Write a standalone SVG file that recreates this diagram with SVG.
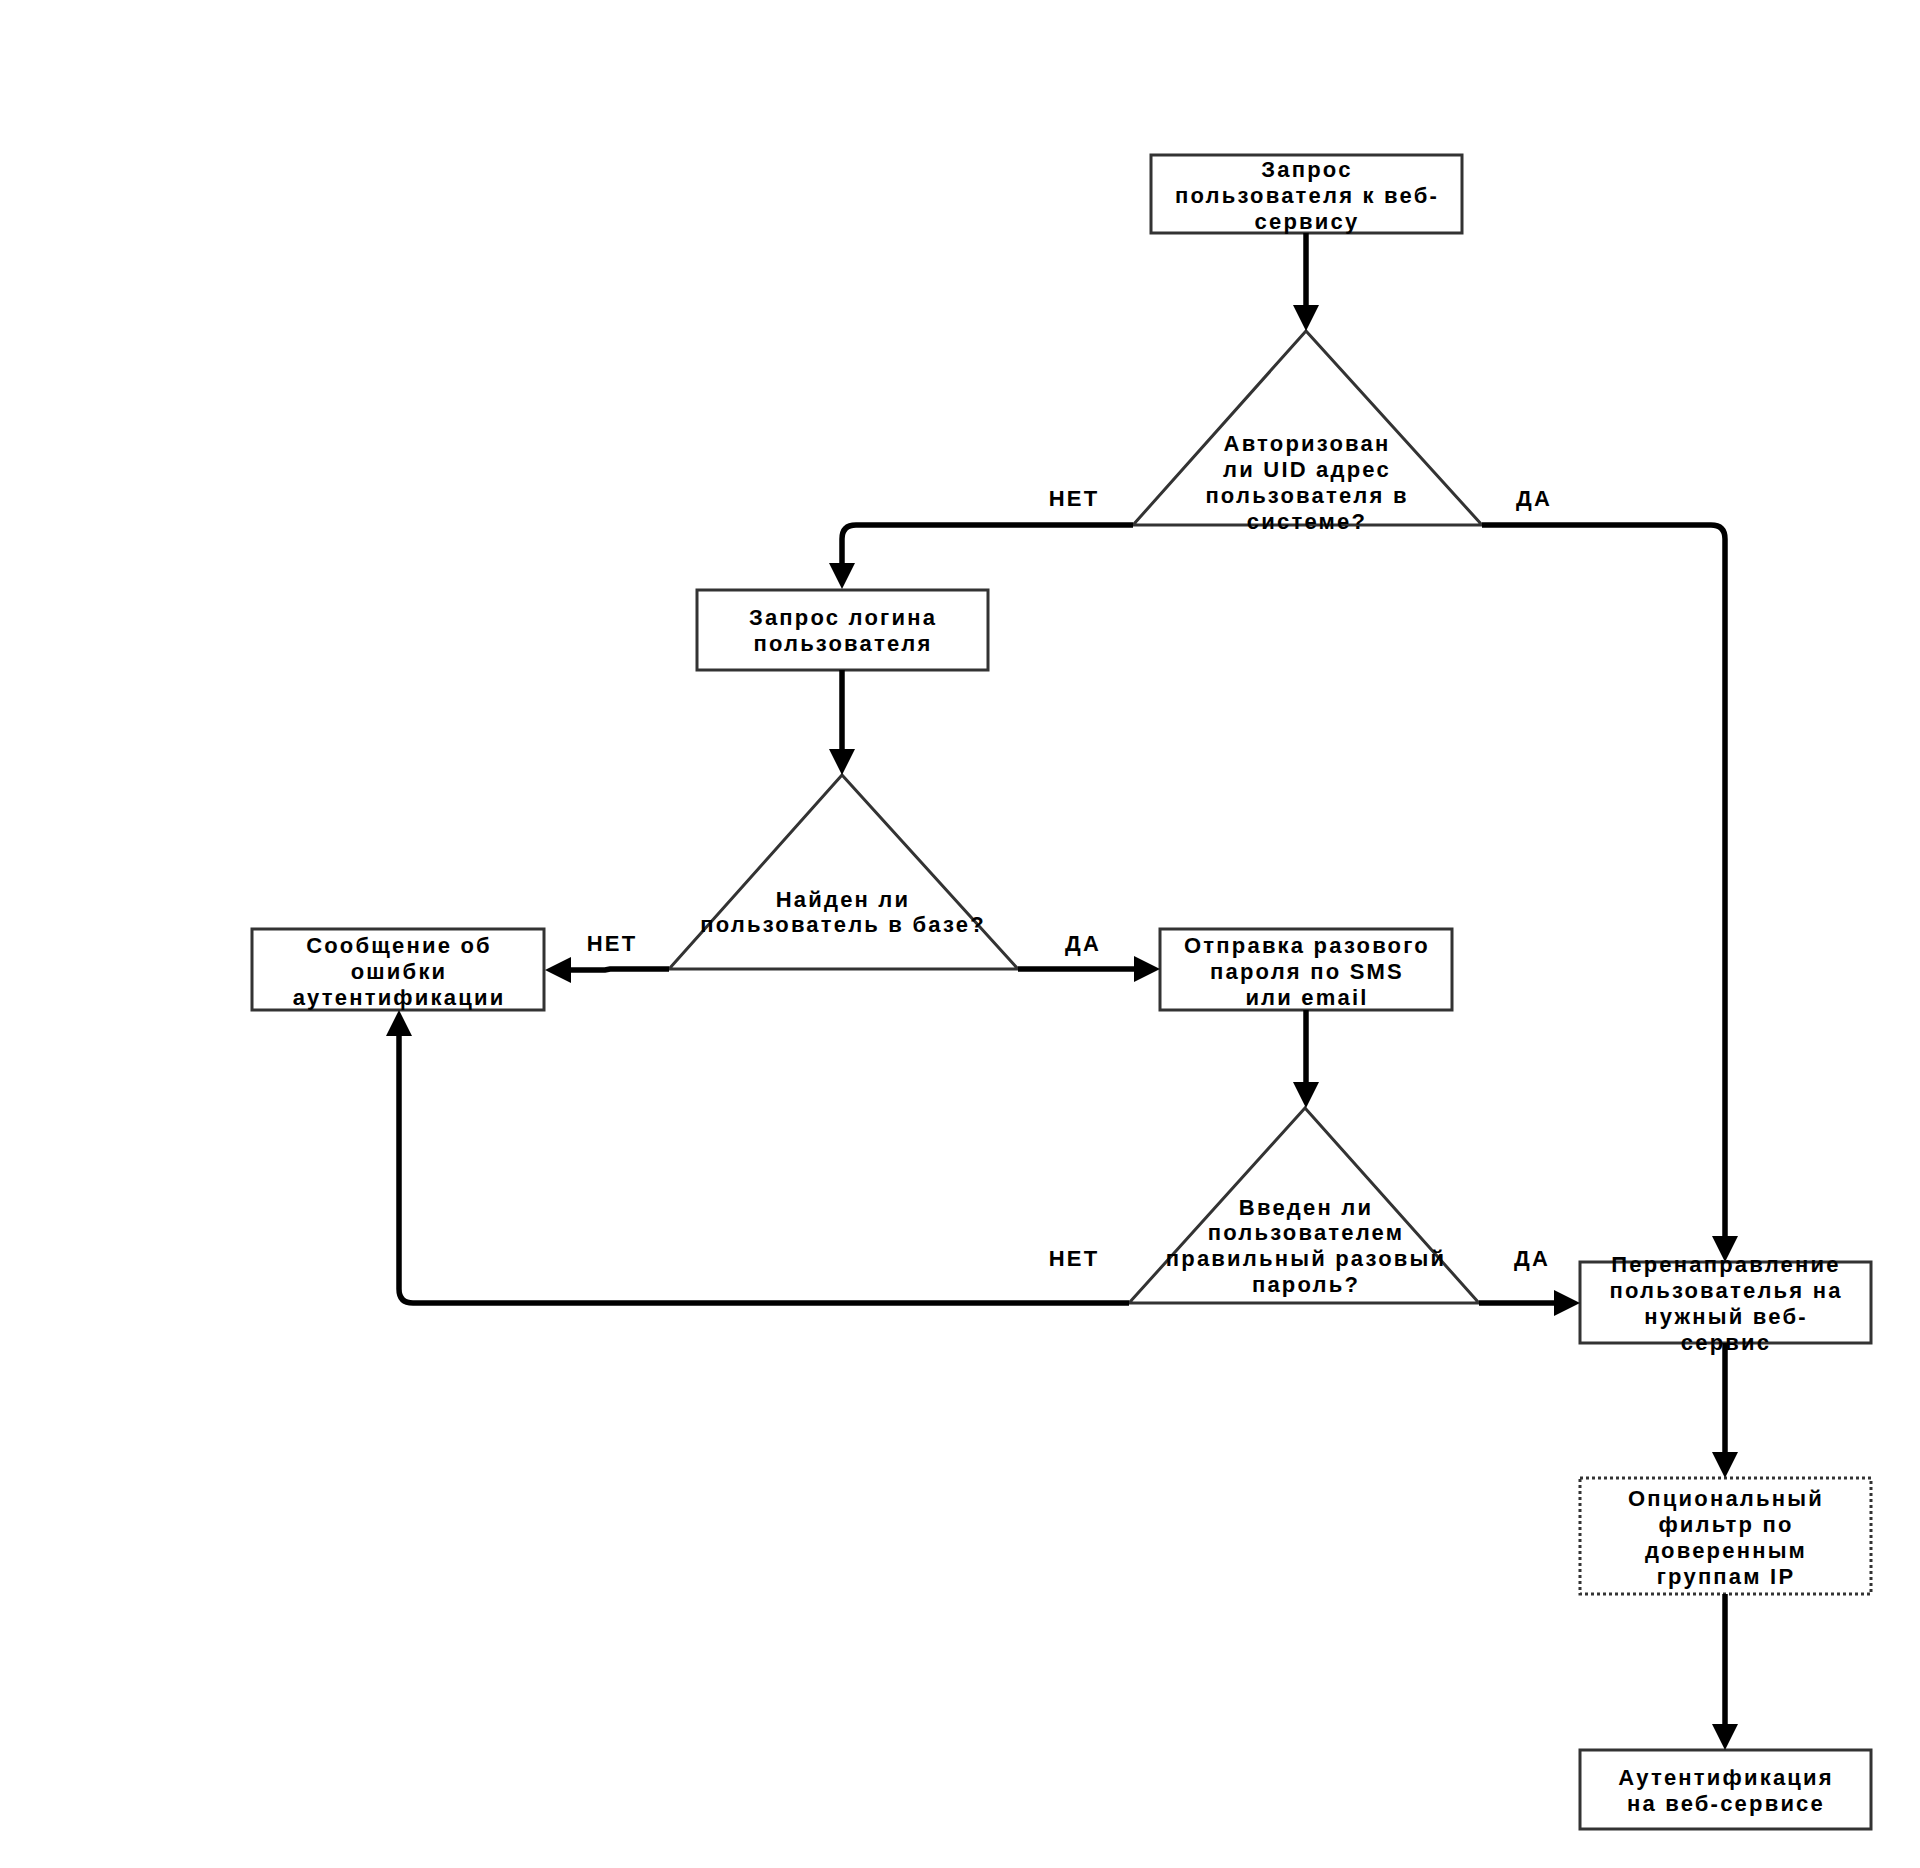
<svg xmlns="http://www.w3.org/2000/svg" width="1920" height="1868" viewBox="0 0 1920 1868">
<defs>
<style>
.box{fill:#fff;stroke:#333;stroke-width:3}
.dot{fill:#fff;stroke:#333;stroke-width:3;stroke-dasharray:3 3}
.tri{fill:#fff;stroke:#333;stroke-width:3;stroke-linejoin:miter}
.t{font-family:"Liberation Sans",Arial,sans-serif;font-weight:bold;font-size:22px;letter-spacing:2.2px;text-anchor:middle;fill:#000}
.c{fill:none;stroke:#000;stroke-width:5.5}
</style>
<marker id="ah" markerUnits="userSpaceOnUse" markerWidth="26" markerHeight="26" refX="16" refY="13" orient="auto" viewBox="0 0 26 26">
<path d="M0,0 L26,13 L0,26 z" fill="#000"/>
</marker>
</defs>
<rect width="1920" height="1868" fill="#fff"/>

<g id="n1">
<rect class="box" x="1151" y="155" width="311" height="78"/>
<text class="t" x="1307" y="177">Запрос</text>
<text class="t" x="1307" y="203">пользователя к веб-</text>
<text class="t" x="1307" y="229">сервису</text>
</g>
<g id="d1">
<polygon class="tri" points="1306,331 1133,525 1482,525"/>
<text class="t" x="1307" y="451">Авторизован</text>
<text class="t" x="1307" y="477">ли UID адрес</text>
<text class="t" x="1307" y="503">пользователя в</text>
<text class="t" x="1307" y="529">системе?</text>
</g>
<g id="n2">
<rect class="box" x="697" y="590" width="291" height="80"/>
<text class="t" x="843" y="625">Запрос логина</text>
<text class="t" x="843" y="651">пользователя</text>
</g>
<g id="d2">
<polygon class="tri" points="842,775 669,969 1018,969"/>
<text class="t" x="843" y="907">Найден ли</text>
<text class="t" x="843" y="932">пользователь в базе?</text>
</g>
<g id="n3">
<rect class="box" x="252" y="929" width="292" height="81"/>
<text class="t" x="399" y="953">Сообщение об</text>
<text class="t" x="399" y="979">ошибки</text>
<text class="t" x="399" y="1005">аутентификации</text>
</g>
<g id="n4">
<rect class="box" x="1160" y="929" width="292" height="81"/>
<text class="t" x="1307" y="953">Отправка разового</text>
<text class="t" x="1307" y="979">пароля по SMS</text>
<text class="t" x="1307" y="1005">или email</text>
</g>
<g id="d3">
<polygon class="tri" points="1305,1108 1129,1303 1479,1303"/>
<text class="t" x="1306" y="1215">Введен ли</text>
<text class="t" x="1306" y="1240">пользователем</text>
<text class="t" x="1306" y="1266">правильный разовый</text>
<text class="t" x="1306" y="1292">пароль?</text>
</g>
<g id="n5">
<rect class="box" x="1580" y="1262" width="291" height="81"/>
<text class="t" x="1726" y="1272">Перенаправление</text>
<text class="t" x="1726" y="1298">пользователья на</text>
<text class="t" x="1726" y="1324">нужный веб-</text>
<text class="t" x="1726" y="1350">сервис</text>
</g>
<g id="n6">
<rect class="dot" x="1580" y="1478" width="291" height="116"/>
<text class="t" x="1726" y="1506">Опциональный</text>
<text class="t" x="1726" y="1532">фильтр по</text>
<text class="t" x="1726" y="1558">доверенным</text>
<text class="t" x="1726" y="1584">группам IP</text>
</g>
<g id="n7">
<rect class="box" x="1580" y="1750" width="291" height="79"/>
<text class="t" x="1726" y="1785">Аутентификация</text>
<text class="t" x="1726" y="1811">на веб-сервисе</text>
</g>

<g id="connectors">
<path class="c" marker-end="url(#ah)" d="M1306,233 V321"/>
<path class="c" marker-end="url(#ah)" d="M1133,525 H856 Q842,525 842,539 V579"/>
<path class="c" marker-end="url(#ah)" d="M1482,525 H1711 Q1725,525 1725,539 V1252"/>
<path class="c" marker-end="url(#ah)" d="M842,670 V765"/>
<path class="c" marker-end="url(#ah)" d="M669,969 H610 L605,970 H555"/>
<path class="c" marker-end="url(#ah)" d="M1018,969 H1150"/>
<path class="c" marker-end="url(#ah)" d="M1306,1010 V1098"/>
<path class="c" marker-end="url(#ah)" d="M1129,1303 H413 Q399,1303 399,1289 V1020"/>
<path class="c" marker-end="url(#ah)" d="M1479,1303 H1570"/>
<path class="c" marker-end="url(#ah)" d="M1725,1343 V1468"/>
<path class="c" marker-end="url(#ah)" d="M1725,1594 V1740"/>
</g>
<g id="labels">
<text class="t" x="1074" y="506">НЕТ</text>
<text class="t" x="1534" y="506">ДА</text>
<text class="t" x="612" y="951">НЕТ</text>
<text class="t" x="1083" y="951">ДА</text>
<text class="t" x="1074" y="1266">НЕТ</text>
<text class="t" x="1532" y="1266">ДА</text>
</g>
</svg>
